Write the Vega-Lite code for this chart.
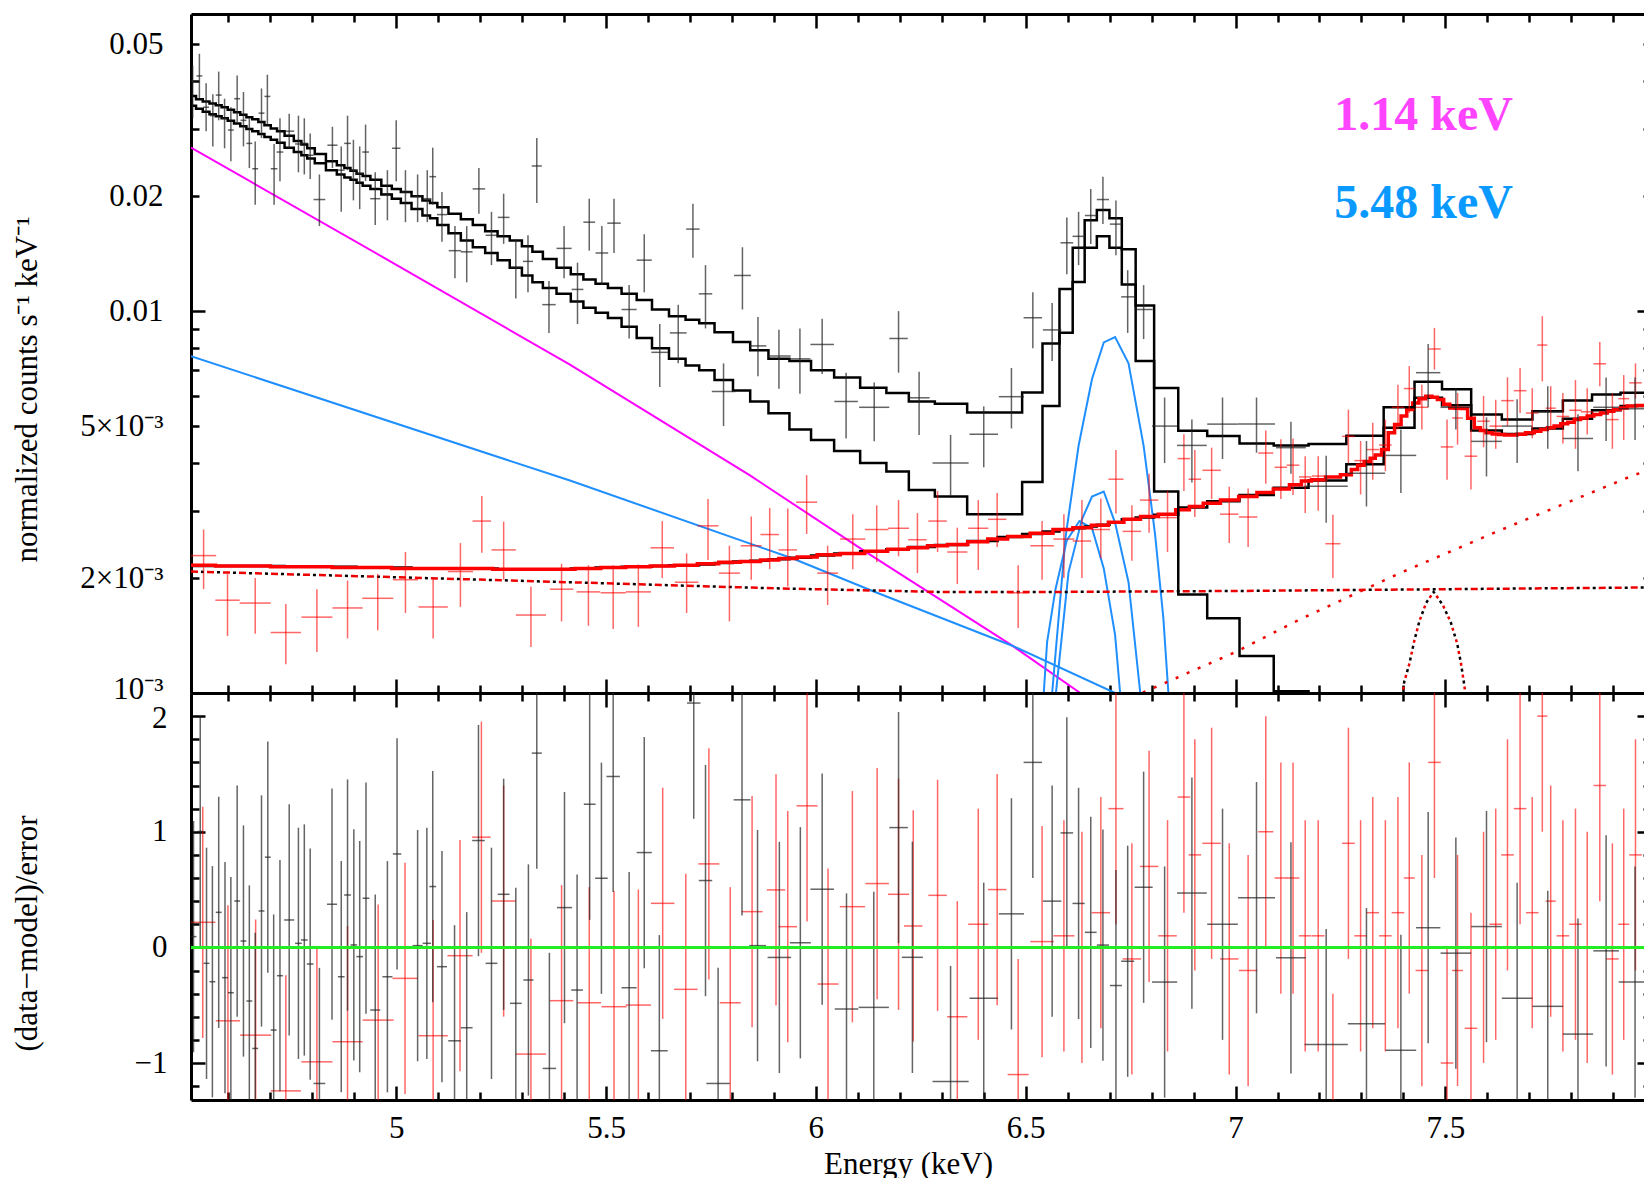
{
"$schema":"https://vega.github.io/schema/vega-lite/v6.json",
"padding":{"left":10,"top":12,"right":0,"bottom":0},
"background":"white",
"spacing":0,
"bounds":"flush",
"config":{"font":"Liberation Serif","view":{"stroke":null},
"axis":{"domainColor":"#000","domainWidth":3,"tickColor":"#000","tickWidth":2.5,"labelFont":"Liberation Serif","labelFontSize":31,"labelColor":"#000","titleFont":"Liberation Serif","titleFontSize":31,"titleFontWeight":"normal","titleColor":"#000","grid":false,"labelOverlap":false,"labelBound":false,"labelFlush":false}},
"datasets":{
"blk":[
{"E":4.515,"hw":0.007,"v":0.0400,"lo":0.0320,"hi":0.0440},
{"E":4.531,"hw":0.007,"v":0.0413,"lo":0.0360,"hi":0.0472},
{"E":4.547,"hw":0.007,"v":0.0342,"lo":0.0296,"hi":0.0395},
{"E":4.563,"hw":0.007,"v":0.0325,"lo":0.0270,"hi":0.0370},
{"E":4.577,"hw":0.007,"v":0.0368,"lo":0.0316,"hi":0.0424},
{"E":4.591,"hw":0.007,"v":0.0320,"lo":0.0267,"hi":0.0360},
{"E":4.606,"hw":0.007,"v":0.0298,"lo":0.0247,"hi":0.0342},
{"E":4.621,"hw":0.007,"v":0.0360,"lo":0.0312,"hi":0.0414},
{"E":4.636,"hw":0.007,"v":0.0316,"lo":0.0270,"hi":0.0375},
{"E":4.650,"hw":0.007,"v":0.0275,"lo":0.0237,"hi":0.0320},
{"E":4.664,"hw":0.007,"v":0.0236,"lo":0.0190,"hi":0.0278},
{"E":4.679,"hw":0.007,"v":0.0330,"lo":0.0284,"hi":0.0383},
{"E":4.693,"hw":0.007,"v":0.0365,"lo":0.0308,"hi":0.0416},
{"E":4.709,"hw":0.008,"v":0.0236,"lo":0.0190,"hi":0.0274},
{"E":4.723,"hw":0.008,"v":0.0261,"lo":0.0219,"hi":0.0320},
{"E":4.745,"hw":0.012,"v":0.0296,"lo":0.0267,"hi":0.0329},
{"E":4.767,"hw":0.008,"v":0.0274,"lo":0.0231,"hi":0.0325},
{"E":4.781,"hw":0.008,"v":0.0275,"lo":0.0228,"hi":0.0320},
{"E":4.795,"hw":0.008,"v":0.0256,"lo":0.0222,"hi":0.0292},
{"E":4.817,"hw":0.014,"v":0.0196,"lo":0.0167,"hi":0.0228},
{"E":4.848,"hw":0.012,"v":0.0272,"lo":0.0237,"hi":0.0304},
{"E":4.869,"hw":0.008,"v":0.0234,"lo":0.0182,"hi":0.0270},
{"E":4.884,"hw":0.008,"v":0.0275,"lo":0.0234,"hi":0.0325},
{"E":4.898,"hw":0.008,"v":0.0234,"lo":0.0195,"hi":0.0281},
{"E":4.913,"hw":0.008,"v":0.0229,"lo":0.0185,"hi":0.0270},
{"E":4.927,"hw":0.008,"v":0.0261,"lo":0.0219,"hi":0.0308},
{"E":4.950,"hw":0.012,"v":0.0197,"lo":0.0168,"hi":0.0231},
{"E":4.979,"hw":0.012,"v":0.0203,"lo":0.0173,"hi":0.0234},
{"E":5.000,"hw":0.010,"v":0.0267,"lo":0.0219,"hi":0.0316},
{"E":5.022,"hw":0.010,"v":0.0205,"lo":0.0171,"hi":0.0234},
{"E":5.051,"hw":0.012,"v":0.0200,"lo":0.0171,"hi":0.0228},
{"E":5.074,"hw":0.010,"v":0.0197,"lo":0.0171,"hi":0.0234},
{"E":5.087,"hw":0.008,"v":0.0225,"lo":0.0190,"hi":0.0268},
{"E":5.109,"hw":0.012,"v":0.0179,"lo":0.0152,"hi":0.0205},
{"E":5.140,"hw":0.015,"v":0.0144,"lo":0.0122,"hi":0.0167},
{"E":5.168,"hw":0.014,"v":0.0143,"lo":0.0119,"hi":0.0167},
{"E":5.197,"hw":0.015,"v":0.0209,"lo":0.0180,"hi":0.0237},
{"E":5.227,"hw":0.014,"v":0.0158,"lo":0.0132,"hi":0.0182},
{"E":5.256,"hw":0.014,"v":0.0176,"lo":0.0150,"hi":0.0203},
{"E":5.285,"hw":0.014,"v":0.0130,"lo":0.0108,"hi":0.0154},
{"E":5.314,"hw":0.012,"v":0.0135,"lo":0.0112,"hi":0.0158},
{"E":5.335,"hw":0.012,"v":0.0240,"lo":0.0192,"hi":0.0284},
{"E":5.364,"hw":0.016,"v":0.0104,"lo":0.00877,"hi":0.0120},
{"E":5.400,"hw":0.018,"v":0.0146,"lo":0.0122,"hi":0.0167},
{"E":5.432,"hw":0.014,"v":0.0114,"lo":0.00925,"hi":0.0134},
{"E":5.460,"hw":0.014,"v":0.0171,"lo":0.0144,"hi":0.0197},
{"E":5.490,"hw":0.015,"v":0.0142,"lo":0.0117,"hi":0.0167},
{"E":5.519,"hw":0.016,"v":0.0170,"lo":0.0142,"hi":0.0197},
{"E":5.555,"hw":0.018,"v":0.0101,"lo":0.00848,"hi":0.0117},
{"E":5.591,"hw":0.018,"v":0.0136,"lo":0.0112,"hi":0.0159},
{"E":5.628,"hw":0.020,"v":0.00780,"lo":0.00633,"hi":0.00925},
{"E":5.672,"hw":0.020,"v":0.00877,"lo":0.00730,"hi":0.0104},
{"E":5.707,"hw":0.016,"v":0.0164,"lo":0.0138,"hi":0.0191},
{"E":5.737,"hw":0.016,"v":0.0111,"lo":0.00901,"hi":0.0132},
{"E":5.780,"hw":0.028,"v":0.00616,"lo":0.0050,"hi":0.0073},
{"E":5.825,"hw":0.020,"v":0.0124,"lo":0.0101,"hi":0.0147},
{"E":5.862,"hw":0.020,"v":0.00811,"lo":0.00675,"hi":0.00966},
{"E":5.912,"hw":0.028,"v":0.00763,"lo":0.00626,"hi":0.00894},
{"E":5.962,"hw":0.025,"v":0.00750,"lo":0.00608,"hi":0.00901},
{"E":6.015,"hw":0.028,"v":0.00818,"lo":0.00685,"hi":0.00955},
{"E":6.072,"hw":0.028,"v":0.00580,"lo":0.00464,"hi":0.00690},
{"E":6.139,"hw":0.036,"v":0.00560,"lo":0.00456,"hi":0.00650},
{"E":6.197,"hw":0.022,"v":0.00848,"lo":0.00690,"hi":0.0100},
{"E":6.246,"hw":0.025,"v":0.00593,"lo":0.00474,"hi":0.00694},
{"E":6.321,"hw":0.043,"v":0.00400,"lo":0.00329,"hi":0.00474},
{"E":6.400,"hw":0.034,"v":0.00476,"lo":0.00390,"hi":0.00563},
{"E":6.466,"hw":0.030,"v":0.00597,"lo":0.00493,"hi":0.00710},
{"E":6.517,"hw":0.022,"v":0.00961,"lo":0.00800,"hi":0.0112},
{"E":6.563,"hw":0.022,"v":0.00893,"lo":0.00740,"hi":0.0105},
{"E":6.598,"hw":0.015,"v":0.0151,"lo":0.0125,"hi":0.0176},
{"E":6.626,"hw":0.0145,"v":0.0157,"lo":0.0132,"hi":0.0182},
{"E":6.655,"hw":0.014,"v":0.0178,"lo":0.0150,"hi":0.0209},
{"E":6.684,"hw":0.0145,"v":0.0196,"lo":0.0169,"hi":0.0225},
{"E":6.715,"hw":0.0145,"v":0.0169,"lo":0.0140,"hi":0.0195},
{"E":6.743,"hw":0.0155,"v":0.0109,"lo":0.00877,"hi":0.0128},
{"E":6.781,"hw":0.0215,"v":0.0101,"lo":0.00845,"hi":0.0117},
{"E":6.831,"hw":0.030,"v":0.00500,"lo":0.00400,"hi":0.00594},
{"E":6.896,"hw":0.0355,"v":0.00445,"lo":0.00356,"hi":0.00520},
{"E":6.969,"hw":0.0365,"v":0.00506,"lo":0.00410,"hi":0.00594},
{"E":7.050,"hw":0.044,"v":0.00506,"lo":0.00426,"hi":0.00594},
{"E":7.132,"hw":0.0355,"v":0.00439,"lo":0.00375,"hi":0.00513},
{"E":7.216,"hw":0.0515,"v":0.00348,"lo":0.00279,"hi":0.00418},
{"E":7.312,"hw":0.0445,"v":0.00376,"lo":0.00308,"hi":0.00457},
{"E":7.394,"hw":0.0365,"v":0.00419,"lo":0.00334,"hi":0.00490},
{"E":7.459,"hw":0.029,"v":0.00690,"lo":0.00560,"hi":0.00820},
{"E":7.525,"hw":0.0365,"v":0.00560,"lo":0.00490,"hi":0.00628},
{"E":7.598,"hw":0.0365,"v":0.00456,"lo":0.00369,"hi":0.00527},
{"E":7.671,"hw":0.0365,"v":0.00500,"lo":0.00400,"hi":0.00588},
{"E":7.744,"hw":0.0365,"v":0.00545,"lo":0.00436,"hi":0.00636},
{"E":7.816,"hw":0.036,"v":0.00464,"lo":0.00381,"hi":0.00537},
{"E":7.883,"hw":0.0305,"v":0.00560,"lo":0.00457,"hi":0.00670},
{"E":7.952,"hw":0.039,"v":0.00555,"lo":0.00460,"hi":0.00670}
],
"red":[
{"E":4.541,"hw":0.03,"v":0.00229,"lo":0.00187,"hi":0.00268},
{"E":4.598,"hw":0.029,"v":0.00175,"lo":0.00141,"hi":0.00205},
{"E":4.664,"hw":0.037,"v":0.00172,"lo":0.00143,"hi":0.00200},
{"E":4.737,"hw":0.036,"v":0.00144,"lo":0.00119,"hi":0.00171},
{"E":4.811,"hw":0.037,"v":0.00158,"lo":0.00128,"hi":0.00187},
{"E":4.884,"hw":0.036,"v":0.00167,"lo":0.00139,"hi":0.00197},
{"E":4.956,"hw":0.037,"v":0.00177,"lo":0.00146,"hi":0.00205},
{"E":5.022,"hw":0.030,"v":0.00198,"lo":0.00162,"hi":0.00234},
{"E":5.088,"hw":0.035,"v":0.00168,"lo":0.00139,"hi":0.00200},
{"E":5.153,"hw":0.030,"v":0.00208,"lo":0.00168,"hi":0.00247},
{"E":5.204,"hw":0.022,"v":0.00282,"lo":0.00233,"hi":0.00328},
{"E":5.256,"hw":0.029,"v":0.00237,"lo":0.00198,"hi":0.00281},
{"E":5.321,"hw":0.036,"v":0.00160,"lo":0.00132,"hi":0.00190},
{"E":5.394,"hw":0.028,"v":0.00187,"lo":0.00154,"hi":0.00218},
{"E":5.458,"hw":0.028,"v":0.00184,"lo":0.00150,"hi":0.00216},
{"E":5.517,"hw":0.030,"v":0.00183,"lo":0.00147,"hi":0.00216},
{"E":5.577,"hw":0.030,"v":0.00184,"lo":0.00149,"hi":0.00217},
{"E":5.634,"hw":0.028,"v":0.00240,"lo":0.00200,"hi":0.00282},
{"E":5.692,"hw":0.028,"v":0.00195,"lo":0.00162,"hi":0.00232},
{"E":5.743,"hw":0.025,"v":0.00274,"lo":0.00223,"hi":0.00322},
{"E":5.794,"hw":0.025,"v":0.00206,"lo":0.00154,"hi":0.00243},
{"E":5.846,"hw":0.025,"v":0.00243,"lo":0.00198,"hi":0.00290},
{"E":5.890,"hw":0.022,"v":0.00260,"lo":0.00211,"hi":0.00305},
{"E":5.933,"hw":0.022,"v":0.00237,"lo":0.00190,"hi":0.00304},
{"E":5.978,"hw":0.025,"v":0.00316,"lo":0.00261,"hi":0.00372},
{"E":6.028,"hw":0.025,"v":0.00206,"lo":0.00170,"hi":0.00243},
{"E":6.088,"hw":0.030,"v":0.00253,"lo":0.00211,"hi":0.00294},
{"E":6.145,"hw":0.028,"v":0.00268,"lo":0.00220,"hi":0.00310},
{"E":6.197,"hw":0.025,"v":0.00270,"lo":0.00228,"hi":0.00320},
{"E":6.242,"hw":0.022,"v":0.00252,"lo":0.00206,"hi":0.00296},
{"E":6.290,"hw":0.022,"v":0.00282,"lo":0.00234,"hi":0.00338},
{"E":6.337,"hw":0.024,"v":0.00234,"lo":0.00193,"hi":0.00271},
{"E":6.387,"hw":0.024,"v":0.00270,"lo":0.00210,"hi":0.00320},
{"E":6.432,"hw":0.022,"v":0.00285,"lo":0.00241,"hi":0.00334},
{"E":6.482,"hw":0.025,"v":0.00183,"lo":0.00148,"hi":0.00216},
{"E":6.539,"hw":0.028,"v":0.00243,"lo":0.00198,"hi":0.00282},
{"E":6.591,"hw":0.025,"v":0.00253,"lo":0.00200,"hi":0.00294},
{"E":6.634,"hw":0.022,"v":0.00250,"lo":0.00200,"hi":0.00320},
{"E":6.679,"hw":0.022,"v":0.00268,"lo":0.00225,"hi":0.00323},
{"E":6.715,"hw":0.018,"v":0.00363,"lo":0.00295,"hi":0.00433},
{"E":6.753,"hw":0.022,"v":0.00265,"lo":0.00222,"hi":0.00310},
{"E":6.794,"hw":0.022,"v":0.00320,"lo":0.00263,"hi":0.00375},
{"E":6.838,"hw":0.022,"v":0.00288,"lo":0.00234,"hi":0.00338},
{"E":6.877,"hw":0.015,"v":0.00411,"lo":0.00338,"hi":0.00476},
{"E":6.903,"hw":0.015,"v":0.00363,"lo":0.00289,"hi":0.00433},
{"E":6.943,"hw":0.022,"v":0.00383,"lo":0.00322,"hi":0.00439},
{"E":6.985,"hw":0.022,"v":0.00294,"lo":0.00247,"hi":0.00347},
{"E":7.030,"hw":0.022,"v":0.00289,"lo":0.00241,"hi":0.00343},
{"E":7.072,"hw":0.018,"v":0.00425,"lo":0.00353,"hi":0.00487},
{"E":7.108,"hw":0.015,"v":0.00390,"lo":0.00322,"hi":0.00462},
{"E":7.137,"hw":0.015,"v":0.00395,"lo":0.00330,"hi":0.00464},
{"E":7.166,"hw":0.015,"v":0.00368,"lo":0.00296,"hi":0.00417},
{"E":7.197,"hw":0.015,"v":0.00370,"lo":0.00300,"hi":0.00417},
{"E":7.232,"hw":0.018,"v":0.00246,"lo":0.00200,"hi":0.00293},
{"E":7.269,"hw":0.015,"v":0.00470,"lo":0.00400,"hi":0.00552},
{"E":7.298,"hw":0.015,"v":0.00406,"lo":0.00331,"hi":0.00457},
{"E":7.327,"hw":0.015,"v":0.00434,"lo":0.00362,"hi":0.00510},
{"E":7.357,"hw":0.015,"v":0.00446,"lo":0.00381,"hi":0.00520},
{"E":7.387,"hw":0.015,"v":0.00560,"lo":0.00490,"hi":0.00642},
{"E":7.414,"hw":0.013,"v":0.00627,"lo":0.00541,"hi":0.00718},
{"E":7.444,"hw":0.015,"v":0.00560,"lo":0.00490,"hi":0.00642},
{"E":7.474,"hw":0.015,"v":0.00796,"lo":0.00703,"hi":0.00904},
{"E":7.504,"hw":0.015,"v":0.00441,"lo":0.00362,"hi":0.00520},
{"E":7.529,"hw":0.013,"v":0.00525,"lo":0.00447,"hi":0.00611},
{"E":7.561,"hw":0.015,"v":0.00417,"lo":0.00341,"hi":0.00490},
{"E":7.591,"hw":0.015,"v":0.00515,"lo":0.00440,"hi":0.00600},
{"E":7.620,"hw":0.015,"v":0.00500,"lo":0.00436,"hi":0.00586},
{"E":7.648,"hw":0.015,"v":0.00583,"lo":0.00500,"hi":0.00671},
{"E":7.678,"hw":0.015,"v":0.00619,"lo":0.00541,"hi":0.00710},
{"E":7.707,"hw":0.015,"v":0.00541,"lo":0.00465,"hi":0.00628},
{"E":7.731,"hw":0.012,"v":0.00815,"lo":0.00655,"hi":0.00970},
{"E":7.751,"hw":0.012,"v":0.00557,"lo":0.00490,"hi":0.00636},
{"E":7.780,"hw":0.015,"v":0.00530,"lo":0.00450,"hi":0.00610},
{"E":7.810,"hw":0.015,"v":0.00550,"lo":0.00436,"hi":0.00660},
{"E":7.838,"hw":0.015,"v":0.00545,"lo":0.00475,"hi":0.00628},
{"E":7.868,"hw":0.015,"v":0.00728,"lo":0.00636,"hi":0.00830},
{"E":7.898,"hw":0.015,"v":0.00520,"lo":0.00436,"hi":0.00610},
{"E":7.925,"hw":0.013,"v":0.00590,"lo":0.00460,"hi":0.00680},
{"E":7.953,"hw":0.015,"v":0.00649,"lo":0.00590,"hi":0.00730}
],
"mblk":[
{"E":4.511,"up":0.0367,"src":0.0346,"bkg":0.00215},
{"E":4.515,"up":0.0366,"src":0.0345,"bkg":0.00215},
{"E":4.531,"up":0.0359,"src":0.0339,"bkg":0.00215},
{"E":4.547,"up":0.0354,"src":0.0333,"bkg":0.00215},
{"E":4.563,"up":0.0350,"src":0.0328,"bkg":0.00215},
{"E":4.577,"up":0.0346,"src":0.0324,"bkg":0.00215},
{"E":4.591,"up":0.0342,"src":0.0320,"bkg":0.00215},
{"E":4.606,"up":0.0337,"src":0.0315,"bkg":0.00215},
{"E":4.621,"up":0.0332,"src":0.0310,"bkg":0.00215},
{"E":4.636,"up":0.0327,"src":0.0305,"bkg":0.00215},
{"E":4.650,"up":0.0322,"src":0.0300,"bkg":0.00215},
{"E":4.664,"up":0.0318,"src":0.0296,"bkg":0.00215},
{"E":4.679,"up":0.0313,"src":0.0291,"bkg":0.00215},
{"E":4.693,"up":0.0307,"src":0.0286,"bkg":0.00215},
{"E":4.709,"up":0.0301,"src":0.0281,"bkg":0.00215},
{"E":4.723,"up":0.0296,"src":0.0276,"bkg":0.00215},
{"E":4.745,"up":0.0288,"src":0.0268,"bkg":0.00214},
{"E":4.767,"up":0.0279,"src":0.0261,"bkg":0.00214},
{"E":4.781,"up":0.0273,"src":0.0256,"bkg":0.00214},
{"E":4.795,"up":0.0267,"src":0.0251,"bkg":0.00214},
{"E":4.817,"up":0.0258,"src":0.0244,"bkg":0.00214},
{"E":4.848,"up":0.0247,"src":0.0234,"bkg":0.00214},
{"E":4.869,"up":0.0241,"src":0.0228,"bkg":0.00214},
{"E":4.884,"up":0.0237,"src":0.0224,"bkg":0.00214},
{"E":4.898,"up":0.0233,"src":0.0221,"bkg":0.00214},
{"E":4.913,"up":0.0229,"src":0.0217,"bkg":0.00213},
{"E":4.927,"up":0.0226,"src":0.0213,"bkg":0.00213},
{"E":4.950,"up":0.0221,"src":0.0209,"bkg":0.00213},
{"E":4.979,"up":0.0213,"src":0.0202,"bkg":0.00213},
{"E":5.000,"up":0.0209,"src":0.0197,"bkg":0.00213},
{"E":5.022,"up":0.0205,"src":0.0192,"bkg":0.00213},
{"E":5.051,"up":0.0200,"src":0.0185,"bkg":0.00212},
{"E":5.074,"up":0.0195,"src":0.0178,"bkg":0.00212},
{"E":5.087,"up":0.0192,"src":0.0175,"bkg":0.00212},
{"E":5.109,"up":0.0187,"src":0.0168,"bkg":0.00212},
{"E":5.140,"up":0.0180,"src":0.0160,"bkg":0.00212},
{"E":5.168,"up":0.0174,"src":0.0153,"bkg":0.00212},
{"E":5.197,"up":0.0168,"src":0.0147,"bkg":0.00212},
{"E":5.227,"up":0.0162,"src":0.0142,"bkg":0.00212},
{"E":5.256,"up":0.0157,"src":0.0136,"bkg":0.00211},
{"E":5.285,"up":0.0153,"src":0.0130,"bkg":0.00211},
{"E":5.314,"up":0.0148,"src":0.0124,"bkg":0.00211},
{"E":5.335,"up":0.0143,"src":0.0119,"bkg":0.00211},
{"E":5.364,"up":0.0137,"src":0.0115,"bkg":0.00211},
{"E":5.400,"up":0.0130,"src":0.0111,"bkg":0.00211},
{"E":5.432,"up":0.0125,"src":0.0106,"bkg":0.00212},
{"E":5.460,"up":0.0121,"src":0.0102,"bkg":0.00212},
{"E":5.490,"up":0.0118,"src":0.0099,"bkg":0.00213},
{"E":5.519,"up":0.0115,"src":0.0096,"bkg":0.00213},
{"E":5.555,"up":0.0111,"src":0.0091,"bkg":0.00214},
{"E":5.591,"up":0.0107,"src":0.0085,"bkg":0.00214},
{"E":5.628,"up":0.0101,"src":0.0080,"bkg":0.00215},
{"E":5.672,"up":0.0097,"src":0.0075,"bkg":0.00216},
{"E":5.707,"up":0.0095,"src":0.0072,"bkg":0.00216},
{"E":5.737,"up":0.0093,"src":0.0070,"bkg":0.00217},
{"E":5.780,"up":0.0088,"src":0.0066,"bkg":0.00219},
{"E":5.825,"up":0.0083,"src":0.0062,"bkg":0.00221},
{"E":5.862,"up":0.0079,"src":0.0058,"bkg":0.00222},
{"E":5.912,"up":0.0075,"src":0.0054,"bkg":0.00224},
{"E":5.962,"up":0.0074,"src":0.0049,"bkg":0.00226},
{"E":6.015,"up":0.0070,"src":0.0046,"bkg":0.00229},
{"E":6.072,"up":0.0067,"src":0.0043,"bkg":0.00232},
{"E":6.139,"up":0.0063,"src":0.0040,"bkg":0.00235},
{"E":6.197,"up":0.0061,"src":0.0038,"bkg":0.00238},
{"E":6.246,"up":0.0058,"src":0.0034,"bkg":0.00241},
{"E":6.321,"up":0.00572,"src":0.00327,"bkg":0.00244},
{"E":6.400,"up":0.00543,"src":0.00294,"bkg":0.0025},
{"E":6.466,"up":0.00543,"src":0.00294,"bkg":0.00256},
{"E":6.517,"up":0.00612,"src":0.00357,"bkg":0.00261},
{"E":6.563,"up":0.00823,"src":0.00564,"bkg":0.00265},
{"E":6.598,"up":0.01143,"src":0.00878,"bkg":0.00268},
{"E":6.626,"up":0.01466,"src":0.01193,"bkg":0.0027},
{"E":6.655,"up":0.01729,"src":0.01466,"bkg":0.00273},
{"E":6.684,"up":0.01841,"src":0.0157,"bkg":0.00276},
{"E":6.715,"up":0.0175,"src":0.01466,"bkg":0.0028},
{"E":6.743,"up":0.01452,"src":0.01175,"bkg":0.00285},
{"E":6.781,"up":0.01035,"src":0.0074,"bkg":0.00288},
{"E":6.831,"up":0.00629,"src":0.00337,"bkg":0.00293},
{"E":6.896,"up":0.00486,"src":0.00181,"bkg":0.00306},
{"E":6.969,"up":0.00471,"src":0.00157,"bkg":0.00318},
{"E":7.050,"up":0.0045,"src":0.00125,"bkg":0.0033},
{"E":7.132,"up":0.00445,"src":0.00101,"bkg":0.00345},
{"E":7.216,"up":0.00449,"src":0.0009,"bkg":0.0036},
{"E":7.312,"up":0.00472,"src":null,"bkg":0.00397},
{"E":7.394,"up":0.0056,"src":null,"bkg":0.00495},
{"E":7.459,"up":0.00653,"src":null,"bkg":0.00593},
{"E":7.525,"up":0.00624,"src":null,"bkg":0.00567},
{"E":7.598,"up":0.00536,"src":null,"bkg":0.00487},
{"E":7.671,"up":0.0052,"src":null,"bkg":0.00477},
{"E":7.744,"up":0.00547,"src":null,"bkg":0.00493},
{"E":7.816,"up":0.00583,"src":null,"bkg":0.00523},
{"E":7.883,"up":0.00605,"src":null,"bkg":0.0055},
{"E":7.952,"up":0.00611,"src":null,"bkg":0.00564},
{"E":7.99,"up":0.00611,"src":null,"bkg":0.00564}
],
"mred":[
{"E":4.511,"m":0.00216},{"E":4.541,"m":0.00216},{"E":4.598,"m":0.00215},{"E":4.664,"m":0.00215},{"E":4.737,"m":0.00214},{"E":4.811,"m":0.00214},{"E":4.884,"m":0.00213},{"E":4.956,"m":0.00213},{"E":5.022,"m":0.00212},{"E":5.088,"m":0.00212},{"E":5.153,"m":0.00212},{"E":5.204,"m":0.00212},{"E":5.256,"m":0.00211},{"E":5.321,"m":0.00211},{"E":5.394,"m":0.00211},{"E":5.458,"m":0.00212},{"E":5.517,"m":0.00213},{"E":5.577,"m":0.00214},{"E":5.634,"m":0.00215},{"E":5.692,"m":0.00216},{"E":5.743,"m":0.00218},{"E":5.794,"m":0.0022},{"E":5.846,"m":0.00221},{"E":5.890,"m":0.00223},{"E":5.933,"m":0.00225},{"E":5.978,"m":0.00227},{"E":6.028,"m":0.0023},{"E":6.088,"m":0.00232},{"E":6.145,"m":0.00235},{"E":6.197,"m":0.00238},{"E":6.242,"m":0.0024},{"E":6.290,"m":0.00243},{"E":6.337,"m":0.00245},{"E":6.387,"m":0.00249},{"E":6.432,"m":0.00253},{"E":6.482,"m":0.00257},{"E":6.539,"m":0.00262},{"E":6.591,"m":0.00268},{"E":6.634,"m":0.00271},{"E":6.679,"m":0.00275},{"E":6.715,"m":0.0028},{"E":6.753,"m":0.00285},{"E":6.794,"m":0.0029},{"E":6.838,"m":0.00294},{"E":6.877,"m":0.00302},{"E":6.903,"m":0.00308},{"E":6.943,"m":0.00314},{"E":6.985,"m":0.0032},{"E":7.030,"m":0.00327},{"E":7.072,"m":0.00335},{"E":7.108,"m":0.00342},{"E":7.149,"m":0.00351},{"E":7.165,"m":0.00359},{"E":7.197,"m":0.00362},{"E":7.232,"m":0.00368},{"E":7.268,"m":0.00373},{"E":7.284,"m":0.00385},{"E":7.298,"m":0.00395},{"E":7.315,"m":0.00404},{"E":7.327,"m":0.00412},{"E":7.339,"m":0.0042},{"E":7.357,"m":0.00434},{"E":7.371,"m":0.0048},{"E":7.387,"m":0.00505},{"E":7.402,"m":0.00531},{"E":7.414,"m":0.00553},{"E":7.430,"m":0.00575},{"E":7.444,"m":0.0059},{"E":7.462,"m":0.00599},{"E":7.474,"m":0.00595},{"E":7.488,"m":0.00587},{"E":7.504,"m":0.0057},{"E":7.517,"m":0.00558},{"E":7.529,"m":0.00557},{"E":7.545,"m":0.00556},{"E":7.561,"m":0.00524},{"E":7.577,"m":0.00495},{"E":7.590,"m":0.00487},{"E":7.604,"m":0.0048},{"E":7.620,"m":0.00477},{"E":7.634,"m":0.00475},{"E":7.648,"m":0.00474},{"E":7.664,"m":0.00474},{"E":7.678,"m":0.00476},{"E":7.704,"m":0.0048},{"E":7.720,"m":0.00485},{"E":7.735,"m":0.0049},{"E":7.751,"m":0.00495},{"E":7.767,"m":0.005},{"E":7.783,"m":0.00507},{"E":7.800,"m":0.00512},{"E":7.814,"m":0.0052},{"E":7.830,"m":0.00525},{"E":7.846,"m":0.00531},{"E":7.862,"m":0.00536},{"E":7.878,"m":0.00541},{"E":7.894,"m":0.00547},{"E":7.909,"m":0.00553},{"E":7.925,"m":0.00558},{"E":7.941,"m":0.00564},{"E":7.966,"m":0.00566},{"E":7.99,"m":0.00568}
],
"comp":[
{"c":"kT1","E":4.511,"v":0.0268},{"c":"kT1","E":4.966,"v":0.0139},{"c":"kT1","E":5.414,"v":0.00724},{"c":"kT1","E":5.842,"v":0.00372},{"c":"kT1","E":6.127,"v":0.00231},{"c":"kT1","E":6.468,"v":0.00133},{"c":"kT1","E":6.63,"v":0.001},{"c":"kT1","E":6.7,"v":0.00088},
{"c":"kT2","E":4.511,"v":0.00762},{"c":"kT2","E":5.414,"v":0.0036},{"c":"kT2","E":5.945,"v":0.00225},{"c":"kT2","E":6.135,"v":0.00185},{"c":"kT2","E":6.468,"v":0.00133},{"c":"kT2","E":6.713,"v":0.001},{"c":"kT2","E":6.8,"v":0.00091},
{"c":"g1","E":6.555,"v":0.0009},{"c":"g1","E":6.563,"v":0.001},{"c":"g1","E":6.595,"v":0.00256},{"c":"g1","E":6.626,"v":0.00444},{"c":"g1","E":6.658,"v":0.00664},{"c":"g1","E":6.686,"v":0.00828},{"c":"g1","E":6.713,"v":0.00855},{"c":"g1","E":6.745,"v":0.0073},{"c":"g1","E":6.781,"v":0.00444},{"c":"g1","E":6.808,"v":0.00262},{"c":"g1","E":6.828,"v":0.00157},{"c":"g1","E":6.84,"v":0.001},{"c":"g1","E":6.845,"v":0.0009},
{"c":"g2","E":6.568,"v":0.0009},{"c":"g2","E":6.572,"v":0.001},{"c":"g2","E":6.602,"v":0.00207},{"c":"g2","E":6.634,"v":0.00285},{"c":"g2","E":6.658,"v":0.00327},{"c":"g2","E":6.686,"v":0.00337},{"c":"g2","E":6.713,"v":0.00279},{"c":"g2","E":6.745,"v":0.00195},{"c":"g2","E":6.773,"v":0.001},{"c":"g2","E":6.778,"v":0.0009},
{"c":"g3","E":6.54,"v":0.0009},{"c":"g3","E":6.543,"v":0.001},{"c":"g3","E":6.551,"v":0.00136},{"c":"g3","E":6.571,"v":0.00187},{"c":"g3","E":6.598,"v":0.00251},{"c":"g3","E":6.628,"v":0.00282},{"c":"g3","E":6.658,"v":0.0027},{"c":"g3","E":6.686,"v":0.00212},{"c":"g3","E":6.713,"v":0.00142},{"c":"g3","E":6.725,"v":0.001},{"c":"g3","E":6.728,"v":0.0009}
],
"dots":[
{"c":"flat","E":4.511,"v":0.00208},{"c":"flat","E":5.0,"v":0.00201},{"c":"flat","E":5.414,"v":0.00195},{"c":"flat","E":5.9,"v":0.00188},{"c":"flat","E":6.29,"v":0.00184},{"c":"flat","E":6.6,"v":0.00184},{"c":"flat","E":7.0,"v":0.00185},{"c":"flat","E":7.5,"v":0.00187},{"c":"flat","E":7.99,"v":0.00189},
{"c":"rise","E":6.7,"v":0.00092},{"c":"rise","E":6.777,"v":0.001},{"c":"rise","E":7.0,"v":0.00128},{"c":"rise","E":7.149,"v":0.00155},{"c":"rise","E":7.387,"v":0.00205},{"c":"rise","E":7.624,"v":0.00265},{"c":"rise","E":7.949,"v":0.00372},{"c":"rise","E":7.99,"v":0.00385},
{"c":"gau","E":7.396,"v":0.00095},{"c":"gau","E":7.402,"v":0.00107},{"c":"gau","E":7.414,"v":0.00119},{"c":"gau","E":7.426,"v":0.00137},{"c":"gau","E":7.438,"v":0.00154},{"c":"gau","E":7.454,"v":0.00172},{"c":"gau","E":7.472,"v":0.00184},{"c":"gau","E":7.494,"v":0.0017},{"c":"gau","E":7.513,"v":0.00153},{"c":"gau","E":7.528,"v":0.00135},{"c":"gau","E":7.537,"v":0.0012},{"c":"gau","E":7.545,"v":0.00105},{"c":"gau","E":7.55,"v":0.00095}
],
"rblk":[
{"E":4.517,"hw":0.007,"r":0.093,"e":1},{"E":4.533,"hw":0.007,"r":1.002,"e":1},{"E":4.548,"hw":0.007,"r":-0.138,"e":1},{"E":4.562,"hw":0.007,"r":-0.297,"e":1},{"E":4.577,"hw":0.007,"r":0.303,"e":1},{"E":4.592,"hw":0.007,"r":-0.262,"e":1},{"E":4.606,"hw":0.007,"r":-0.392,"e":1},{"E":4.621,"hw":0.007,"r":0.401,"e":1},{"E":4.636,"hw":0.007,"r":0.055,"e":1},{"E":4.650,"hw":0.007,"r":-0.464,"e":1},{"E":4.664,"hw":0.007,"r":-0.874,"e":1},{"E":4.679,"hw":0.007,"r":0.315,"e":1},{"E":4.694,"hw":0.007,"r":0.780,"e":1},{"E":4.708,"hw":0.007,"r":-0.715,"e":1},{"E":4.723,"hw":0.007,"r":-0.245,"e":1},{"E":4.745,"hw":0.012,"r":0.237,"e":1},{"E":4.767,"hw":0.008,"r":0.035,"e":1},{"E":4.781,"hw":0.008,"r":0.064,"e":1},{"E":4.795,"hw":0.008,"r":-0.144,"e":1},{"E":4.817,"hw":0.014,"r":-1.177,"e":1},{"E":4.847,"hw":0.012,"r":0.373,"e":1},{"E":4.869,"hw":0.008,"r":-0.254,"e":1},{"E":4.884,"hw":0.008,"r":0.453,"e":1},{"E":4.899,"hw":0.008,"r":0.021,"e":1},{"E":4.913,"hw":0.008,"r":-0.080,"e":1},{"E":4.928,"hw":0.008,"r":0.425,"e":1},{"E":4.950,"hw":0.012,"r":-0.542,"e":1},{"E":4.979,"hw":0.012,"r":-0.254,"e":1},{"E":5.002,"hw":0.010,"r":0.808,"e":1},{"E":5.051,"hw":0.012,"r":0.015,"e":1},{"E":5.073,"hw":0.010,"r":0.035,"e":1},{"E":5.087,"hw":0.008,"r":0.526,"e":1},{"E":5.109,"hw":0.012,"r":-0.167,"e":1},{"E":5.139,"hw":0.015,"r":-0.808,"e":1},{"E":5.168,"hw":0.014,"r":-0.695,"e":1},{"E":5.196,"hw":0.015,"r":0.924,"e":1},{"E":5.227,"hw":0.014,"r":-0.138,"e":1},{"E":5.256,"hw":0.014,"r":0.459,"e":1},{"E":5.285,"hw":0.014,"r":-0.484,"e":1},{"E":5.315,"hw":0.012,"r":-0.282,"e":1},{"E":5.335,"hw":0.012,"r":1.680,"e":1},{"E":5.365,"hw":0.016,"r":-1.047,"e":1},{"E":5.401,"hw":0.018,"r":0.344,"e":1},{"E":5.431,"hw":0.014,"r":-0.369,"e":1},{"E":5.461,"hw":0.014,"r":1.238,"e":1},{"E":5.489,"hw":0.015,"r":0.598,"e":1},{"E":5.517,"hw":0.016,"r":1.478,"e":1},{"E":5.555,"hw":0.018,"r":-0.349,"e":1},{"E":5.591,"hw":0.018,"r":0.820,"e":1},{"E":5.627,"hw":0.020,"r":-0.894,"e":1},{"E":5.709,"hw":0.016,"r":2.113,"e":1},{"E":5.737,"hw":0.016,"r":0.578,"e":1},{"E":5.767,"hw":0.028,"r":-1.177,"e":1},{"E":5.824,"hw":0.020,"r":1.276,"e":1},{"E":5.861,"hw":0.020,"r":0.015,"e":1},{"E":5.913,"hw":0.028,"r":-0.087,"e":1},{"E":5.963,"hw":0.025,"r":0.040,"e":1},{"E":6.015,"hw":0.028,"r":0.503,"e":1},{"E":6.073,"hw":0.028,"r":-0.533,"e":1},{"E":6.138,"hw":0.036,"r":-0.519,"e":1},{"E":6.197,"hw":0.022,"r":1.036,"e":1},{"E":6.230,"hw":0.025,"r":-0.086,"e":1},
{"E":6.321,"hw":0.043,"r":-1.16,"e":1},{"E":6.400,"hw":0.034,"r":-0.44,"e":1},{"E":6.466,"hw":0.030,"r":0.29,"e":1},{"E":6.517,"hw":0.022,"r":1.60,"e":1},{"E":6.563,"hw":0.022,"r":0.40,"e":1},{"E":6.598,"hw":0.015,"r":0.99,"e":1},{"E":6.626,"hw":0.0145,"r":0.38,"e":1},{"E":6.655,"hw":0.014,"r":0.13,"e":1},{"E":6.684,"hw":0.0145,"r":0.02,"e":1},{"E":6.715,"hw":0.0145,"r":-0.33,"e":1},{"E":6.743,"hw":0.0155,"r":-0.12,"e":1},{"E":6.781,"hw":0.0215,"r":0.52,"e":1},{"E":6.831,"hw":0.030,"r":-0.30,"e":1},{"E":6.896,"hw":0.0355,"r":0.47,"e":1},{"E":6.969,"hw":0.0365,"r":0.20,"e":1},{"E":7.050,"hw":0.044,"r":0.43,"e":1},{"E":7.132,"hw":0.0355,"r":-0.09,"e":1},{"E":7.216,"hw":0.0515,"r":-0.84,"e":1},{"E":7.312,"hw":0.0445,"r":-0.66,"e":1},{"E":7.394,"hw":0.0365,"r":-0.89,"e":1},{"E":7.459,"hw":0.029,"r":0.17,"e":1},{"E":7.525,"hw":0.0365,"r":-0.05,"e":1},{"E":7.598,"hw":0.0365,"r":0.18,"e":1},{"E":7.671,"hw":0.0365,"r":-0.44,"e":1},{"E":7.744,"hw":0.0365,"r":-0.51,"e":1},{"E":7.816,"hw":0.036,"r":-0.75,"e":1},{"E":7.883,"hw":0.0305,"r":-0.03,"e":1},{"E":7.952,"hw":0.039,"r":-0.30,"e":1}
],
"rred":[
{"E":4.539,"hw":0.03,"r":0.217,"e":1},{"E":4.599,"hw":0.029,"r":-0.635,"e":1},{"E":4.665,"hw":0.037,"r":-0.759,"e":1},{"E":4.737,"hw":0.036,"r":-1.241,"e":1},{"E":4.811,"hw":0.037,"r":-0.990,"e":1},{"E":4.884,"hw":0.036,"r":-0.816,"e":1},{"E":4.957,"hw":0.037,"r":-0.629,"e":1},{"E":5.021,"hw":0.030,"r":-0.268,"e":1},{"E":5.088,"hw":0.035,"r":-0.764,"e":1},{"E":5.152,"hw":0.030,"r":-0.072,"e":1},{"E":5.203,"hw":0.022,"r":0.953,"e":1},{"E":5.256,"hw":0.029,"r":0.401,"e":1},{"E":5.321,"hw":0.036,"r":-0.923,"e":1},{"E":5.394,"hw":0.028,"r":-0.461,"e":1},{"E":5.460,"hw":0.028,"r":-0.479,"e":1},{"E":5.519,"hw":0.030,"r":-0.513,"e":1},{"E":5.577,"hw":0.030,"r":-0.499,"e":1},{"E":5.635,"hw":0.028,"r":0.381,"e":1},{"E":5.690,"hw":0.028,"r":-0.363,"e":1},{"E":5.745,"hw":0.025,"r":0.722,"e":1},{"E":5.796,"hw":0.025,"r":-0.479,"e":1},{"E":5.848,"hw":0.025,"r":0.309,"e":1},{"E":5.905,"hw":0.022,"r":0.497,"e":1},{"E":5.933,"hw":0.022,"r":0.179,"e":1},{"E":5.979,"hw":0.025,"r":1.224,"e":1},{"E":6.029,"hw":0.025,"r":-0.317,"e":1},{"E":6.087,"hw":0.030,"r":0.352,"e":1},{"E":6.146,"hw":0.028,"r":0.552,"e":1},{"E":6.197,"hw":0.025,"r":0.459,"e":1},{"E":6.232,"hw":0.022,"r":0.185,"e":1},
{"E":6.290,"hw":0.022,"r":0.45,"e":1},{"E":6.337,"hw":0.024,"r":-0.6,"e":1},{"E":6.387,"hw":0.024,"r":0.2,"e":1},{"E":6.432,"hw":0.022,"r":0.5,"e":1},{"E":6.482,"hw":0.025,"r":-1.1,"e":1},{"E":6.539,"hw":0.028,"r":0.05,"e":1},{"E":6.591,"hw":0.025,"r":0.1,"e":1},{"E":6.634,"hw":0.022,"r":0.0,"e":1},{"E":6.679,"hw":0.022,"r":0.3,"e":1},{"E":6.715,"hw":0.018,"r":1.2,"e":1},{"E":6.753,"hw":0.022,"r":-0.1,"e":1},{"E":6.794,"hw":0.022,"r":0.7,"e":1},{"E":6.838,"hw":0.022,"r":0.1,"e":1},{"E":6.877,"hw":0.015,"r":1.3,"e":1},{"E":6.903,"hw":0.015,"r":0.8,"e":1},{"E":6.943,"hw":0.022,"r":0.9,"e":1},{"E":6.985,"hw":0.022,"r":-0.1,"e":1},{"E":7.030,"hw":0.022,"r":-0.2,"e":1},{"E":7.072,"hw":0.018,"r":1.0,"e":1},{"E":7.108,"hw":0.015,"r":0.6,"e":1},{"E":7.137,"hw":0.015,"r":0.6,"e":1},{"E":7.166,"hw":0.015,"r":0.1,"e":1},{"E":7.197,"hw":0.015,"r":0.1,"e":1},{"E":7.232,"hw":0.018,"r":-1.4,"e":1},{"E":7.269,"hw":0.015,"r":0.9,"e":1},{"E":7.298,"hw":0.015,"r":0.1,"e":1},{"E":7.327,"hw":0.015,"r":0.3,"e":1},{"E":7.357,"hw":0.015,"r":0.1,"e":1},{"E":7.387,"hw":0.015,"r":0.3,"e":1},{"E":7.414,"hw":0.013,"r":0.6,"e":1},{"E":7.444,"hw":0.015,"r":-0.2,"e":1},{"E":7.474,"hw":0.015,"r":1.6,"e":1},{"E":7.504,"hw":0.015,"r":-1.0,"e":1},{"E":7.529,"hw":0.013,"r":-0.2,"e":1},{"E":7.561,"hw":0.015,"r":-0.7,"e":1},{"E":7.591,"hw":0.015,"r":0.0,"e":1},{"E":7.620,"hw":0.015,"r":0.2,"e":1},{"E":7.648,"hw":0.015,"r":0.8,"e":1},{"E":7.678,"hw":0.015,"r":1.2,"e":1},{"E":7.707,"hw":0.015,"r":0.3,"e":1},{"E":7.731,"hw":0.012,"r":2.0,"e":1},{"E":7.751,"hw":0.012,"r":0.4,"e":1},{"E":7.780,"hw":0.015,"r":0.1,"e":1},{"E":7.810,"hw":0.015,"r":0.2,"e":1},{"E":7.838,"hw":0.015,"r":0.0,"e":1},{"E":7.868,"hw":0.015,"r":1.4,"e":1},{"E":7.898,"hw":0.015,"r":-0.1,"e":1},{"E":7.925,"hw":0.013,"r":0.2,"e":1},{"E":7.953,"hw":0.015,"r":0.8,"e":1}
]
},
"vconcat":[
{"width":1460,"height":679,
"resolve":{"axis":{"x":"independent","y":"independent"}},
"layer":[
{"data":{"name":"comp"},"mark":{"type":"line","clip":true,"strokeWidth":2},
"encoding":{
"x":{"field":"E","type":"quantitative","scale":{"domain":[4.511,7.99],"nice":false,"zero":false},
"axis":{"orient":"bottom","values":[4.6,4.7,4.8,4.9,5,5.1,5.2,5.3,5.4,5.5,5.6,5.7,5.8,5.9,6,6.1,6.2,6.3,6.4,6.5,6.6,6.7,6.8,6.9,7,7.1,7.2,7.3,7.4,7.5,7.6,7.7,7.8,7.9],"labels":false,"title":null,"tickSize":{"condition":{"test":"abs(datum.value*2-round(datum.value*2))<0.01","value":-14},"value":-8}}},
"y":{"field":"v","type":"quantitative","scale":{"type":"log","domain":[0.001,0.06],"nice":false},
"axis":{"orient":"left","values":[0.001,0.002,0.003,0.004,0.005,0.006,0.007,0.008,0.009,0.01,0.02,0.03,0.04,0.05],
"title":"normalized counts s⁻¹ keV⁻¹","titleX":-155,"titleY":375,"titleAngle":-90,"titleAlign":"center","titleBaseline":"alphabetic",
"labelExpr":"datum.value==0.001?'10⁻³':datum.value==0.002?'2×10⁻³':datum.value==0.005?'5×10⁻³':datum.value==0.01?'0.01':datum.value==0.02?'0.02':datum.value==0.05?'0.05':''",
"labelAlign":"right","labelBaseline":"middle",
"labelOffset":{"condition":{"test":"datum.value==0.001","value":-4},"value":0},
"tickSize":{"condition":{"test":"datum.value==0.001||datum.value==0.01","value":-14},"value":-8},
"labelPadding":{"condition":{"test":"datum.value==0.001||datum.value==0.01","value":42},"value":36}}},
"color":{"field":"c","type":"nominal","scale":{"domain":["kT1","kT2","g1","g2","g3"],"range":["#ff00ff","#1f8fff","#1f8fff","#1f8fff","#1f8fff"]},"legend":null}}},
{"data":{"name":"dots"},"transform":[{"filter":"datum.c == 'flat'"}],"mark":{"type":"line","clip":true,"color":"#ee0000","strokeWidth":2.5,"strokeDash":[7,9]},
"encoding":{
"x":{"field":"E","type":"quantitative","scale":{"domain":[4.511,7.99],"nice":false,"zero":false},
"axis":{"orient":"top","values":[4.6,4.7,4.8,4.9,5,5.1,5.2,5.3,5.4,5.5,5.6,5.7,5.8,5.9,6,6.1,6.2,6.3,6.4,6.5,6.6,6.7,6.8,6.9,7,7.1,7.2,7.3,7.4,7.5,7.6,7.7,7.8,7.9],"labels":false,"title":null,"tickSize":{"condition":{"test":"abs(datum.value*2-round(datum.value*2))<0.01","value":-14},"value":-8}}},
"y":{"field":"v","type":"quantitative","scale":{"type":"log","domain":[0.001,0.06],"nice":false},
"axis":{"orient":"right","values":[0.001,0.002,0.003,0.004,0.005,0.006,0.007,0.008,0.009,0.01,0.02,0.03,0.04,0.05],"labels":false,"title":null,
"tickSize":{"condition":{"test":"datum.value==0.001||datum.value==0.01","value":-14},"value":-8}}}}},
{"data":{"name":"dots"},"transform":[{"filter":"datum.c != 'flat'"}],"mark":{"type":"line","clip":true,"color":"#ee0000","strokeWidth":2.5,"strokeDash":[3,9]},
"encoding":{"x":{"field":"E","type":"quantitative","axis":null},"y":{"field":"v","type":"quantitative","axis":null},"detail":{"field":"c","type":"nominal"}}},
{"data":{"name":"dots"},"transform":[{"filter":"datum.c == 'flat'"}],"mark":{"type":"line","clip":true,"color":"#000000","strokeWidth":2.5,"strokeDash":[3,13],"strokeDashOffset":6},
"encoding":{"x":{"field":"E","type":"quantitative","axis":null},"y":{"field":"v","type":"quantitative","axis":null}}},
{"data":{"name":"dots"},"transform":[{"filter":"datum.c == 'gau'"}],"mark":{"type":"line","clip":true,"color":"#000000","strokeWidth":2.5,"strokeDash":[3,9],"strokeDashOffset":6},
"encoding":{"x":{"field":"E","type":"quantitative","axis":null},"y":{"field":"v","type":"quantitative","axis":null}}},
{"data":{"name":"mblk"},"mark":{"type":"line","clip":true,"interpolate":"step","color":"#000000","strokeWidth":2.5},
"encoding":{"x":{"field":"E","type":"quantitative","axis":null},"y":{"field":"bkg","type":"quantitative","axis":null}}},
{"data":{"name":"mred"},"mark":{"type":"line","clip":true,"interpolate":"step","color":"#ff0000","strokeWidth":3.5},
"encoding":{"x":{"field":"E","type":"quantitative","axis":null},"y":{"field":"m","type":"quantitative","axis":null}}},
{"data":{"name":"mblk"},"mark":{"type":"line","clip":true,"interpolate":"step","color":"#000000","strokeWidth":2.5},
"encoding":{"x":{"field":"E","type":"quantitative","axis":null},"y":{"field":"up","type":"quantitative","axis":null}}},
{"data":{"name":"mblk"},"mark":{"type":"line","clip":true,"interpolate":"step","color":"#000000","strokeWidth":2.5},
"encoding":{"x":{"field":"E","type":"quantitative","axis":null},"y":{"field":"src","type":"quantitative","axis":null}}},
{"data":{"name":"red"},"mark":{"type":"rule","clip":true,"color":"#ff0000","opacity":0.6,"strokeWidth":1.5},
"encoding":{"x":{"field":"E","type":"quantitative","axis":null},"y":{"field":"lo","type":"quantitative","axis":null},"y2":{"field":"hi"}}},
{"data":{"name":"red"},"mark":{"type":"errorbar","ticks":false,"rule":{"clip":true,"color":"#ff0000","opacity":0.6,"strokeWidth":1.5}},
"encoding":{"x":{"field":"E","type":"quantitative","axis":null},"xError":{"field":"hw"},"y":{"field":"v","type":"quantitative","axis":null}}},
{"data":{"name":"blk"},"mark":{"type":"rule","clip":true,"color":"#222222","opacity":0.7,"strokeWidth":1.5},
"encoding":{"x":{"field":"E","type":"quantitative","axis":null},"y":{"field":"lo","type":"quantitative","axis":null},"y2":{"field":"hi"}}},
{"data":{"name":"blk"},"mark":{"type":"errorbar","ticks":false,"rule":{"clip":true,"color":"#222222","opacity":0.7,"strokeWidth":1.5}},
"encoding":{"x":{"field":"E","type":"quantitative","axis":null},"xError":{"field":"hw"},"y":{"field":"v","type":"quantitative","axis":null}}},
{"data":{"values":[{"E":7.448,"v":0.0298,"t":"1.14 keV"}]},"mark":{"type":"text","font":"Liberation Serif","fontWeight":"bold","fontSize":48,"align":"center","baseline":"alphabetic","color":"#ff44ff"},
"encoding":{"x":{"field":"E","type":"quantitative","axis":null},"y":{"field":"v","type":"quantitative","axis":null},"text":{"field":"t"}}},
{"data":{"values":[{"E":7.448,"v":0.01755,"t":"5.48 keV"}]},"mark":{"type":"text","font":"Liberation Serif","fontWeight":"bold","fontSize":48,"align":"center","baseline":"alphabetic","color":"#0a99ff"},
"encoding":{"x":{"field":"E","type":"quantitative","axis":null},"y":{"field":"v","type":"quantitative","axis":null},"text":{"field":"t"}}}
]},
{"width":1460,"height":407,
"resolve":{"axis":{"x":"independent","y":"independent"}},
"layer":[
{"data":{"name":"rblk"},"mark":{"type":"point","opacity":0},
"encoding":{
"x":{"field":"E","type":"quantitative","scale":{"domain":[4.511,7.99],"nice":false,"zero":false},
"axis":{"orient":"bottom","values":[4.6,4.7,4.8,4.9,5,5.1,5.2,5.3,5.4,5.5,5.6,5.7,5.8,5.9,6,6.1,6.2,6.3,6.4,6.5,6.6,6.7,6.8,6.9,7,7.1,7.2,7.3,7.4,7.5,7.6,7.7,7.8,7.9],
"title":"Energy (keV)","titleX":717,"titleY":73,"titleAlign":"center","titleBaseline":"alphabetic",
"labelExpr":"abs(datum.value*2-round(datum.value*2))<0.01 ? ''+datum.value : ''","labelAlign":"center","labelBaseline":"alphabetic","labelPadding":51,
"tickSize":{"condition":{"test":"abs(datum.value*2-round(datum.value*2))<0.01","value":-14},"value":-8}}},
"y":{"field":"r","type":"quantitative","scale":{"domain":[-1.32,2.2],"nice":false,"zero":false},
"axis":{"orient":"left","values":[-1.2,-1,-0.8,-0.6,-0.4,-0.2,0,0.2,0.4,0.6,0.8,1,1.2,1.4,1.6,1.8,2,2.2],
"title":"(data−model)/error","titleX":-155,"titleY":240,"titleAngle":-90,"titleAlign":"center","titleBaseline":"alphabetic",
"labelExpr":"datum.value==round(datum.value) ? (datum.value<0 ? '−'+abs(datum.value) : ''+datum.value) : ''",
"labelAlign":"right","labelBaseline":"middle",
"labelOffset":{"condition":{"test":"datum.value==2","value":2},"value":0},
"tickSize":{"condition":{"test":"datum.value==round(datum.value)","value":-14},"value":-8},
"labelPadding":{"condition":{"test":"datum.value==round(datum.value)","value":38},"value":32}}}}},
{"data":{"name":"rblk"},"mark":{"type":"point","opacity":0},
"encoding":{
"x":{"field":"E","type":"quantitative","scale":{"domain":[4.511,7.99],"nice":false,"zero":false},
"axis":{"orient":"top","values":[4.6,4.7,4.8,4.9,5,5.1,5.2,5.3,5.4,5.5,5.6,5.7,5.8,5.9,6,6.1,6.2,6.3,6.4,6.5,6.6,6.7,6.8,6.9,7,7.1,7.2,7.3,7.4,7.5,7.6,7.7,7.8,7.9],"labels":false,"title":null,"tickSize":{"condition":{"test":"abs(datum.value*2-round(datum.value*2))<0.01","value":-14},"value":-8}}},
"y":{"field":"r","type":"quantitative","scale":{"domain":[-1.32,2.2],"nice":false,"zero":false},
"axis":{"orient":"right","values":[-1.2,-1,-0.8,-0.6,-0.4,-0.2,0,0.2,0.4,0.6,0.8,1,1.2,1.4,1.6,1.8,2,2.2],"labels":false,"title":null,
"tickSize":{"condition":{"test":"datum.value==round(datum.value)","value":-14},"value":-8}}}}},
{"data":{"name":"rred"},"mark":{"type":"errorbar","ticks":false,"rule":{"clip":true,"color":"#ff0000","opacity":0.6,"strokeWidth":1.5}},
"encoding":{"x":{"field":"E","type":"quantitative","axis":null},"y":{"field":"r","type":"quantitative","axis":null},"yError":{"field":"e"}}},
{"data":{"name":"rred"},"mark":{"type":"errorbar","ticks":false,"rule":{"clip":true,"color":"#ff0000","opacity":0.6,"strokeWidth":1.5}},
"encoding":{"x":{"field":"E","type":"quantitative","axis":null},"xError":{"field":"hw"},"y":{"field":"r","type":"quantitative","axis":null}}},
{"data":{"name":"rblk"},"mark":{"type":"errorbar","ticks":false,"rule":{"clip":true,"color":"#222222","opacity":0.7,"strokeWidth":1.5}},
"encoding":{"x":{"field":"E","type":"quantitative","axis":null},"y":{"field":"r","type":"quantitative","axis":null},"yError":{"field":"e"}}},
{"data":{"name":"rblk"},"mark":{"type":"errorbar","ticks":false,"rule":{"clip":true,"color":"#222222","opacity":0.7,"strokeWidth":1.5}},
"encoding":{"x":{"field":"E","type":"quantitative","axis":null},"xError":{"field":"hw"},"y":{"field":"r","type":"quantitative","axis":null}}},
{"data":{"values":[{}]},"mark":{"type":"rule","color":"#22ee22","strokeWidth":3},
"encoding":{"y":{"datum":0,"type":"quantitative","axis":null}}}
]}
]
}
